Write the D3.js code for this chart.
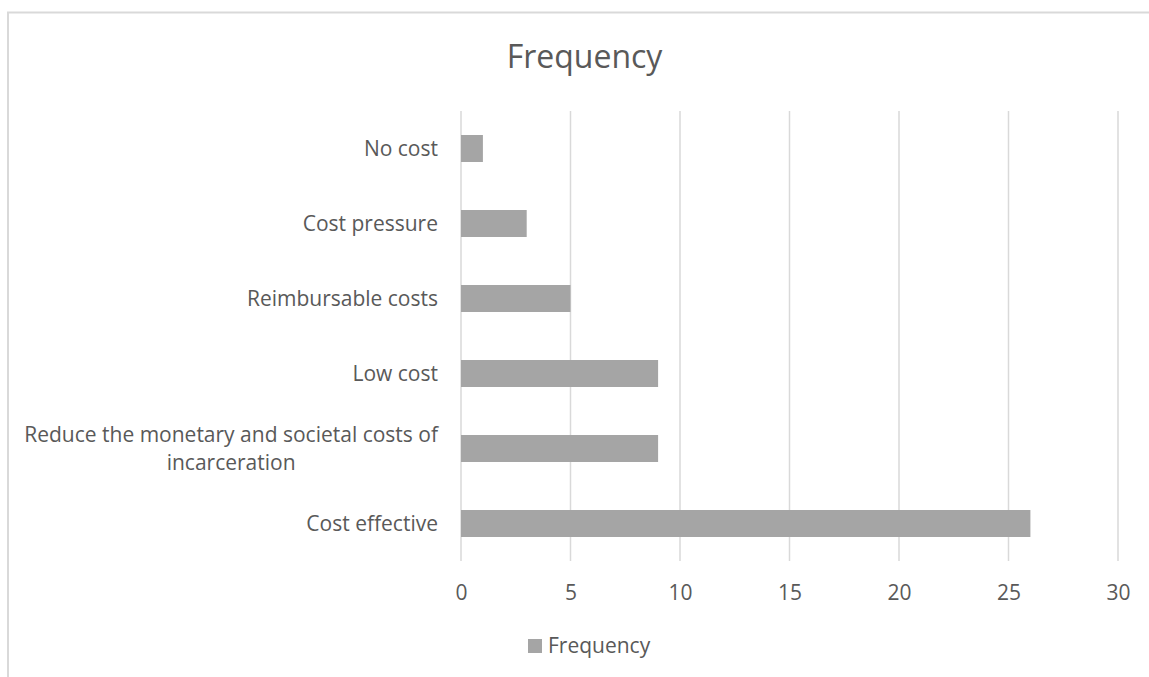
<!DOCTYPE html>
<html>
<head>
<meta charset="utf-8">
<script src="https://cdn.jsdelivr.net/npm/d3@7"></script>
<style>
  html, body { margin: 0; padding: 0; background: #fff; }
  svg { display: block; font-family: "Open Sans", "Liberation Sans", sans-serif; }
</style>
</head>
<body>
<svg id="chart" width="1149" height="677"></svg>
<script>
// Category labels, top to bottom, and their frequencies
const categories = [
  "No cost",
  "Cost pressure",
  "Reimbursable costs",
  "Low cost",
  "Reduce the monetary and societal costs of incarceration",
  "Cost effective"
];
const frequency = [1, 3, 5, 9, 9, 26];
const xTicks = [0, 5, 10, 15, 20, 25, 30];
const seriesName = "Frequency";
const chartTitle = "Frequency";

const W = 1149, H = 677;
const plot = { left: 461, right: 1118, top: 111, bottom: 561 };
const textColor = "#595959";
const gridColor = "#d9d9d9";
const barColor = "#a5a5a5";
const labelSize = "21px";

const svg = d3.select("#chart");

// Chart frame (top and left edges visible)
svg.append("path")
  .attr("d", `M8,${H} L8,12.5 L${W},12.5`)
  .attr("fill", "none")
  .attr("stroke", gridColor)
  .attr("stroke-width", 2);

const x = d3.scaleLinear().domain([0, 30]).range([plot.left, plot.right]);
const y = d3.scaleBand().domain(categories).range([plot.top, plot.bottom]).paddingInner(0.64).paddingOuter(0.32);

// Vertical gridlines
svg.append("g")
  .selectAll("line")
  .data(xTicks)
  .join("line")
  .attr("x1", d => x(d)).attr("x2", d => x(d))
  .attr("y1", plot.top).attr("y2", plot.bottom)
  .attr("stroke", gridColor)
  .attr("stroke-width", 1.5);

// Value axis labels
const xAxis = d3.axisBottom(x).tickValues(xTicks).tickSize(0).tickPadding(0);
const xg = svg.append("g").attr("transform", `translate(0,${plot.bottom})`).call(xAxis);
xg.select(".domain").remove();
xg.selectAll("text")
  .attr("y", 32)
  .attr("dy", "0.35em")
  .attr("fill", textColor)
  .style("font-size", labelSize)
  .style("font-family", "'Open Sans', sans-serif");

// Bars
svg.append("g")
  .selectAll("rect")
  .data(categories.map((c, i) => ({ c, v: frequency[i] })))
  .join("rect")
  .attr("x", x(0))
  .attr("y", d => y(d.c))
  .attr("width", d => x(d.v) - x(0))
  .attr("height", y.bandwidth())
  .attr("fill", barColor);

// Category labels, wrapped when too wide and centred on their widest line
const labelRight = 438;
const maxLabelWidth = 425;
const lineHeight = 28;
const lg = svg.append("g").attr("fill", textColor).style("font-size", labelSize);
categories.forEach(c => {
  const cy = y(c) + y.bandwidth() / 2;
  const t = lg.append("text").attr("text-anchor", "middle");
  const words = c.split(" ");
  const lines = [];
  let cur = [];
  const probe = lg.append("text").style("visibility", "hidden");
  words.forEach(w => {
    const trial = cur.concat([w]).join(" ");
    probe.text(trial);
    if (probe.node().getComputedTextLength() > maxLabelWidth && cur.length) {
      lines.push(cur.join(" "));
      cur = [w];
    } else {
      cur.push(w);
    }
  });
  lines.push(cur.join(" "));
  let widest = 0;
  lines.forEach(l => {
    probe.text(l);
    widest = Math.max(widest, probe.node().getComputedTextLength());
  });
  probe.remove();
  const cx = labelRight - widest / 2;
  const y0 = cy - (lines.length - 1) * lineHeight / 2;
  lines.forEach((l, i) => {
    t.append("tspan")
      .attr("x", cx)
      .attr("y", y0 + i * lineHeight)
      .attr("dy", "0.35em")
      .text(l);
  });
});

// Title
svg.append("text")
  .attr("x", 584.5)
  .attr("y", 68)
  .attr("text-anchor", "middle")
  .attr("fill", textColor)
  .style("font-size", "32px")
  .text(chartTitle);

// Legend
const legend = svg.append("g").attr("transform", "translate(528,639)");
legend.append("rect").attr("width", 14).attr("height", 14).attr("fill", barColor);
legend.append("text")
  .attr("x", 20)
  .attr("y", 7)
  .attr("dy", "0.35em")
  .attr("fill", textColor)
  .style("font-size", labelSize)
  .text(seriesName);
</script>
</body>
</html>
